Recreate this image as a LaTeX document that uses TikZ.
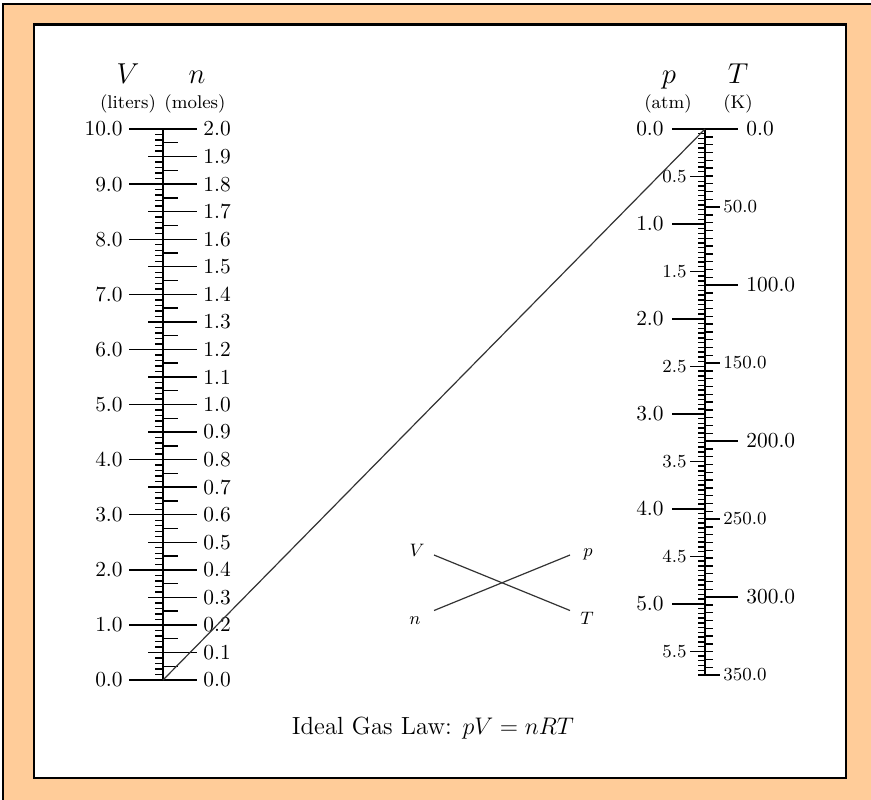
\documentclass[tikz,border=0pt]{standalone}
\usepackage{tikz}
\definecolor{framebg}{RGB}{255,204,153}
\definecolor{linegray}{RGB}{51,51,51}
\tikzset{
  tickline/.style={line width=0.7pt, black},
  spine/.style={line width=0.8pt, black},
  biglbl/.style={font=\fontsize{10.7}{12}\selectfont, inner sep=0pt},
  smalllbl/.style={font=\fontsize{9.2}{11}\selectfont, inner sep=0pt},
  headlbl/.style={font=\fontsize{13.5}{15}\selectfont, inner sep=0pt, anchor=base},
  unitlbl/.style={font=\fontsize{9.2}{11}\selectfont, inner sep=0pt, anchor=base},
  insetlbl/.style={font=\fontsize{9}{11}\selectfont, inner sep=0pt, anchor=base},
  isoline/.style={line width=0.6pt, linegray},
}
\begin{document}
\begin{tikzpicture}[x=0.5pt,y=-0.5pt]
\useasboundingbox (0,0) rectangle (871,799);
\clip (0,0) rectangle (871,799);
% frame
\draw[line width=1pt, fill=framebg] (2.5,3.5) rectangle (880,810);
\draw[line width=1.2pt, fill=white] (34,24.5) rectangle (846,778);

% ---------------- left scale (V, n) ----------------
\coordinate (Vtop) at (163,129);
\coordinate (V0) at (163,680);
\draw[spine] (Vtop) -- (V0);
% V small ticks every 0.1 L
\foreach \i in {0,...,100}{
  \draw[tickline] (163,{680-5.51*\i}) -- ++(-8,0);
}
% V half-liter ticks
\foreach \i in {0,...,20}{
  \draw[tickline] (163,{680-27.55*\i}) -- ++(-15,0);
}
% V major ticks + labels
\foreach \i in {0,...,10}{
  \draw[tickline] (163,{680-55.1*\i}) -- ++(-34,0);
  \node[biglbl, anchor=east] (Vl\i) at (123,{680-55.1*\i}) {\i.0};
}
% n 0.05 ticks
\foreach \i in {0,...,40}{
  \draw[tickline] (163,{680-13.775*\i}) -- ++(15,0);
}
% n 0.1 ticks + labels
\foreach \i in {0,...,20}{
  \pgfmathtruncatemacro\na{\i/10}
  \pgfmathtruncatemacro\nb{\i-10*\na}
  \draw[tickline] (163,{680-27.55*\i}) -- ++(34,0);
  \node[biglbl, anchor=west] (nl\i) at (203,{680-27.55*\i}) {\na.\nb};
}
% headers
\node[headlbl] (Vh) at (128,83) {$V$};
\node[headlbl] (nh) at (197,83) {$n$};
\node[unitlbl] (Vu) at (128,108) {(liters)};
\node[unitlbl] (nu) at (195,108) {(moles)};

% ---------------- right scale (p, T) ----------------
\coordinate (P0) at (705,129);
\coordinate (Pbot) at (705,676);
\draw[spine] (P0) -- (Pbot);
% p small ticks every 0.05 atm
\foreach \i in {0,...,115}{
  \draw[tickline] (705,{129+4.748*\i}) -- ++(-7,0);
}
% p half ticks
\foreach \i in {0,...,11}{
  \draw[tickline] (705,{129+47.48*\i}) -- ++(-15,0);
}
\foreach \i in {0,...,5}{
  \node[smalllbl, anchor=east] (pl\i h) at (687,{129+47.48*(2*\i+1)}) {\i.5};
}
% p major ticks + labels
\foreach \i in {0,...,5}{
  \draw[tickline] (705,{129+94.96*\i}) -- ++(-33,0);
  \node[biglbl, anchor=east] (pl\i) at (664,{129+94.96*\i}) {\i.0};
}
% T small ticks every 5 K
\foreach \i in {0,...,70}{
  \draw[tickline] (705,{129+7.8*\i}) -- ++(8,0);
}
% T 50 K ticks
\foreach \i in {0,...,7}{
  \draw[tickline] (705,{129+78*\i}) -- ++(15,0);
}
\foreach \i/\t in {1/50.0,3/150.0,5/250.0,7/350.0}{
  \node[smalllbl, anchor=west] (Tl\i) at (723,{129+78*\i}) {\t};
}
% T 100 K ticks + labels
\foreach \i/\t in {0/0.0,1/100.0,2/200.0,3/300.0}{
  \draw[tickline] (705,{129+156*\i}) -- ++(33,0);
  \node[biglbl, anchor=west] (TL\i) at (746,{129+156*\i}) {\t};
}
% headers
\node[headlbl] (ph) at (669,83) {$p$};
\node[headlbl] (Th) at (738,83) {$T$};
\node[unitlbl] (pu) at (668,108) {(atm)};
\node[unitlbl] (Tu) at (738,108) {(K)};

% ---------------- isopleth ----------------
\draw[isoline] (V0) -- (P0);

% ---------------- inset key ----------------
\node[insetlbl] (kV) at (417,556) {$V$};
\node[insetlbl] (kp) at (588,556) {$p$};
\node[insetlbl] (kn) at (415,624) {$n$};
\node[insetlbl] (kT) at (587,624) {$T$};
\coordinate (kVe) at (434,555);
\coordinate (kTe) at (570,610.5);
\coordinate (kne) at (434,610.5);
\coordinate (kpe) at (570,555);
\draw[isoline] (kVe) -- (kTe);
\draw[isoline] (kne) -- (kpe);

% ---------------- title ----------------
\node[font=\fontsize{12.4}{14}\selectfont, inner sep=0pt, anchor=base] (title) at (433,734) {Ideal Gas Law: $pV = nRT$};
\end{tikzpicture}
\end{document}
